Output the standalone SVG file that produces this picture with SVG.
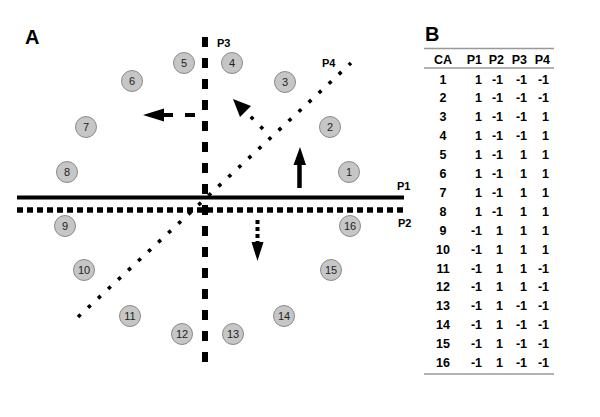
<svg xmlns="http://www.w3.org/2000/svg" width="600" height="417" viewBox="0 0 600 417">
<style>
.panel{font-family:"Liberation Sans",Arial,sans-serif;font-weight:bold;font-size:20px;fill:#000}
.ca circle{fill:#c6c6c6;stroke:#8a8a8a;stroke-width:1}
.ca text{font-family:"Liberation Sans",Arial,sans-serif;font-size:11px;fill:#222;text-anchor:middle}
.lbl{font-family:"Liberation Sans",Arial,sans-serif;font-weight:bold;font-size:11px;fill:#000}
.tb{font-family:"Liberation Sans",Arial,sans-serif;font-weight:bold;font-size:12.5px;fill:#000;text-anchor:end}
.tb .c{text-anchor:middle}
.rule{stroke:#999;stroke-width:1.5}
.head{fill:#000}
</style>
<rect width="600" height="417" fill="#fff"/>
<text class="panel" x="25" y="44">A</text>
<text class="panel" x="425" y="41">B</text>

<g id="connectors" fill="none" stroke="#000">
  <line id="P1" x1="17" y1="197.5" x2="404" y2="197.5" stroke-width="4"/>
  <line id="P2" x1="17" y1="210" x2="405" y2="210" stroke-width="5.5" stroke-dasharray="6 4"/>
  <line id="P3" x1="205" y1="37" x2="205" y2="366" stroke-width="6" stroke-dasharray="10 11"/>
  <line id="P4" x1="78" y1="317" x2="351" y2="63" stroke-width="3.6" stroke-dasharray="3.6 10.1"/>
  <!-- P1 arrow -->
  <line x1="299.5" y1="188" x2="299.5" y2="164" stroke-width="4.5"/>
  <polygon class="head" stroke="none" points="293.5,165 306,165 300,147"/>
  <!-- P3 arrow -->
  <line x1="195" y1="115" x2="163" y2="115" stroke-width="4" stroke-dasharray="10 12"/>
  <polygon class="head" stroke="none" points="164,108.5 164,121.5 143,115"/>
  <!-- P4 arrow -->
  <line x1="263" y1="129" x2="246" y2="112" stroke-width="3.6" stroke-dasharray="3.6 10.1"/>
  <polygon class="head" stroke="none" points="251,106 240,117 233,99"/>
  <!-- P2 arrow -->
  <line x1="257.5" y1="220" x2="257.5" y2="243" stroke-width="4" stroke-dasharray="4 3"/>
  <polygon class="head" stroke="none" points="251.5,242 263.5,242 257.5,261"/>
</g>

<g id="line-labels">
  <text class="lbl" x="217" y="47">P3</text>
  <text class="lbl" x="322" y="67">P4</text>
  <text class="lbl" x="397" y="190">P1</text>
  <text class="lbl" x="398" y="227">P2</text>
</g>

<g class="ca">
  <g id="ca1"><circle cx="349" cy="172" r="10.5"/><text x="349" y="176">1</text></g>
  <g id="ca2"><circle cx="330" cy="127" r="10.5"/><text x="330" y="131">2</text></g>
  <g id="ca3"><circle cx="285" cy="82" r="10.5"/><text x="285" y="86">3</text></g>
  <g id="ca4"><circle cx="232" cy="63" r="10.5"/><text x="232" y="67">4</text></g>
  <g id="ca5"><circle cx="184" cy="63" r="10.5"/><text x="184" y="67">5</text></g>
  <g id="ca6"><circle cx="132" cy="81" r="10.5"/><text x="132" y="85">6</text></g>
  <g id="ca7"><circle cx="86" cy="127" r="10.5"/><text x="86" y="131">7</text></g>
  <g id="ca8"><circle cx="67" cy="172" r="10.5"/><text x="67" y="176">8</text></g>
  <g id="ca9"><circle cx="65" cy="226" r="10.5"/><text x="65" y="230">9</text></g>
  <g id="ca10"><circle cx="84" cy="270" r="10.5"/><text x="84" y="274">10</text></g>
  <g id="ca11"><circle cx="130" cy="316" r="10.5"/><text x="130" y="320">11</text></g>
  <g id="ca12"><circle cx="182" cy="334" r="10.5"/><text x="182" y="338">12</text></g>
  <g id="ca13"><circle cx="233" cy="334" r="10.5"/><text x="233" y="338">13</text></g>
  <g id="ca14"><circle cx="284" cy="316" r="10.5"/><text x="284" y="320">14</text></g>
  <g id="ca15"><circle cx="331" cy="270" r="10.5"/><text x="331" y="274">15</text></g>
  <g id="ca16"><circle cx="350" cy="226" r="10.5"/><text x="350" y="230">16</text></g>
</g>

<g id="table">
  <line class="rule" x1="424" y1="48.5" x2="554" y2="48.5"/>
  <line class="rule" x1="424" y1="68" x2="554" y2="68"/>
  <line class="rule" x1="424" y1="374" x2="554" y2="374"/>
  <g class="tb">
    <text class="c" x="443" y="63.5">CA</text><text x="482" y="63.5">P1</text><text x="504" y="63.5">P2</text><text x="527" y="63.5">P3</text><text x="550" y="63.5">P4</text>
    <text class="c" x="443" y="83.5">1</text><text x="482" y="83.5">1</text><text x="503" y="83.5">-1</text><text x="527" y="83.5">-1</text><text x="549" y="83.5">-1</text>
    <text class="c" x="443" y="102.4">2</text><text x="482" y="102.4">1</text><text x="503" y="102.4">-1</text><text x="527" y="102.4">-1</text><text x="549" y="102.4">-1</text>
    <text class="c" x="443" y="121.3">3</text><text x="482" y="121.3">1</text><text x="503" y="121.3">-1</text><text x="527" y="121.3">-1</text><text x="549" y="121.3">1</text>
    <text class="c" x="443" y="140.2">4</text><text x="482" y="140.2">1</text><text x="503" y="140.2">-1</text><text x="527" y="140.2">-1</text><text x="549" y="140.2">1</text>
    <text class="c" x="443" y="159.1">5</text><text x="482" y="159.1">1</text><text x="503" y="159.1">-1</text><text x="527" y="159.1">1</text><text x="549" y="159.1">1</text>
    <text class="c" x="443" y="178">6</text><text x="482" y="178">1</text><text x="503" y="178">-1</text><text x="527" y="178">1</text><text x="549" y="178">1</text>
    <text class="c" x="443" y="196.9">7</text><text x="482" y="196.9">1</text><text x="503" y="196.9">-1</text><text x="527" y="196.9">1</text><text x="549" y="196.9">1</text>
    <text class="c" x="443" y="215.8">8</text><text x="482" y="215.8">1</text><text x="503" y="215.8">-1</text><text x="527" y="215.8">1</text><text x="549" y="215.8">1</text>
    <text class="c" x="443" y="234.7">9</text><text x="482" y="234.7">-1</text><text x="503" y="234.7">1</text><text x="527" y="234.7">1</text><text x="549" y="234.7">1</text>
    <text class="c" x="443" y="253.6">10</text><text x="482" y="253.6">-1</text><text x="503" y="253.6">1</text><text x="527" y="253.6">1</text><text x="549" y="253.6">1</text>
    <text class="c" x="443" y="272.5">11</text><text x="482" y="272.5">-1</text><text x="503" y="272.5">1</text><text x="527" y="272.5">1</text><text x="549" y="272.5">-1</text>
    <text class="c" x="443" y="291.4">12</text><text x="482" y="291.4">-1</text><text x="503" y="291.4">1</text><text x="527" y="291.4">1</text><text x="549" y="291.4">-1</text>
    <text class="c" x="443" y="310.3">13</text><text x="482" y="310.3">-1</text><text x="503" y="310.3">1</text><text x="527" y="310.3">-1</text><text x="549" y="310.3">-1</text>
    <text class="c" x="443" y="329.2">14</text><text x="482" y="329.2">-1</text><text x="503" y="329.2">1</text><text x="527" y="329.2">-1</text><text x="549" y="329.2">-1</text>
    <text class="c" x="443" y="348.1">15</text><text x="482" y="348.1">-1</text><text x="503" y="348.1">1</text><text x="527" y="348.1">-1</text><text x="549" y="348.1">-1</text>
    <text class="c" x="443" y="367">16</text><text x="482" y="367">-1</text><text x="503" y="367">1</text><text x="527" y="367">-1</text><text x="549" y="367">-1</text>
  </g>
</g>
</svg>
